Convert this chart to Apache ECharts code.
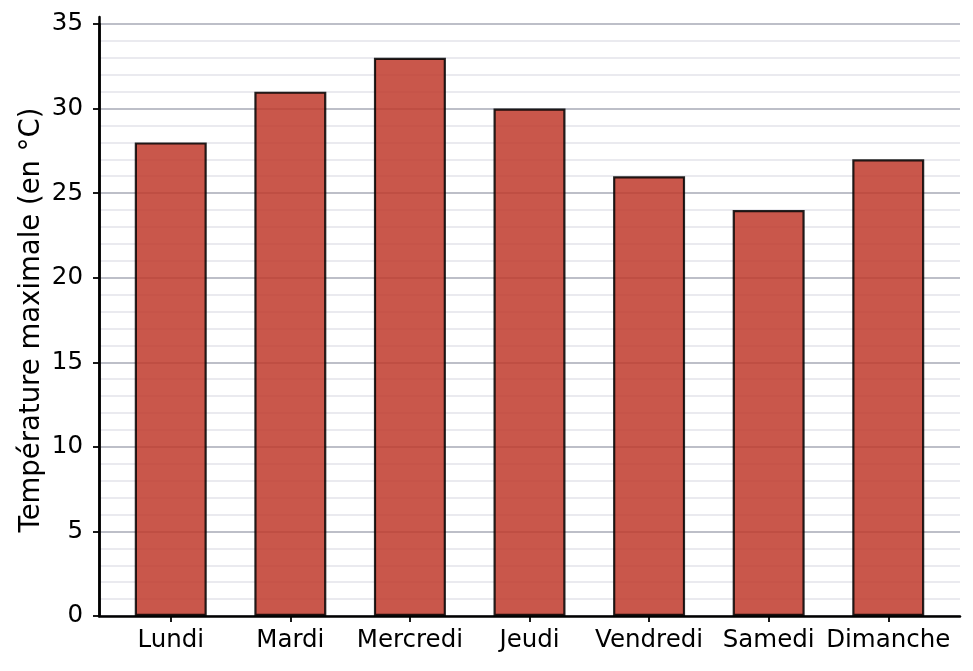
<!DOCTYPE html>
<html>
<head>
<meta charset="utf-8">
<script src="https://cdn.jsdelivr.net/npm/echarts@6/dist/echarts.min.js"></script>
<style>
html,body{margin:0;padding:0;background:#fff;}
#chart{width:973px;height:671px;}
</style>
</head>
<body>
<div id="chart"></div>
<script>
const days = ['Lundi', 'Mardi', 'Mercredi', 'Jeudi', 'Vendredi', 'Samedi', 'Dimanche'];
const tempMax = [28, 31, 33, 30, 26, 24, 27];
const yTicks = [0, 5, 10, 15, 20, 25, 30, 35];
const yName = 'Température maximale (en °C)';

const font = 'DejaVu Sans';
const chart = echarts.init(document.getElementById('chart'), null, {renderer: 'canvas'});
const positions = days.map((d, i) => i);

chart.setOption({
  animation: false,
  backgroundColor: '#ffffff',
  grid: [
    {left: 99, right: 13, top: 24, bottom: 55},
    {left: 99, right: 13, top: 17, bottom: 55}
  ],
  xAxis: [
    {
      type: 'value', gridIndex: 0, min: -0.6, max: 6.6,
      axisLine: {show: true, onZero: false, lineStyle: {color: '#000', width: 2.5}},
      axisTick: {show: true, customValues: positions, length: 6, lineStyle: {color: '#000', width: 1.8}},
      axisLabel: {show: true, customValues: positions, margin: 12, color: '#000',
        fontFamily: font, fontSize: 24.5,
        formatter: v => days[Math.round(v)]},
      splitLine: {show: false}
    },
    {type: 'value', gridIndex: 1, min: 0, max: 1, show: false}
  ],
  yAxis: [
    {
      type: 'value', gridIndex: 0, min: yTicks[0], max: yTicks[yTicks.length - 1], interval: 5,
      name: yName, nameLocation: 'middle', nameGap: 53, nameRotate: 90, nameMoveOverlap: false,
      nameTextStyle: {fontFamily: font, fontSize: 27.5, color: '#000'},
      axisLine: {show: true, onZero: false, lineStyle: {color: '#000', width: 2.5}},
      axisTick: {show: true, length: 6, lineStyle: {color: '#000', width: 1.8}},
      axisLabel: {margin: 16, color: '#000', fontFamily: font, fontSize: 24.5},
      splitLine: {show: true, lineStyle: {color: '#a7aab6', width: 1.5}},
      minorTick: {show: false, splitNumber: 5},
      minorSplitLine: {show: true, lineStyle: {color: '#e4e4ea', width: 1.5}}
    },
    {
      type: 'value', gridIndex: 1, min: 0, max: 1,
      axisLine: {show: true, onZero: false, lineStyle: {color: '#000', width: 2.5}},
      axisTick: {show: false}, axisLabel: {show: false}, splitLine: {show: false}
    }
  ],
  series: [{
    type: 'bar',
    xAxisIndex: 0, yAxisIndex: 0,
    data: tempMax.map((v, i) => [i, v]),
    barWidth: 72,
    itemStyle: {color: '#C0392B', borderColor: '#000', borderWidth: 2.2, opacity: 0.85}
  }]
});
</script>
</body>
</html>
